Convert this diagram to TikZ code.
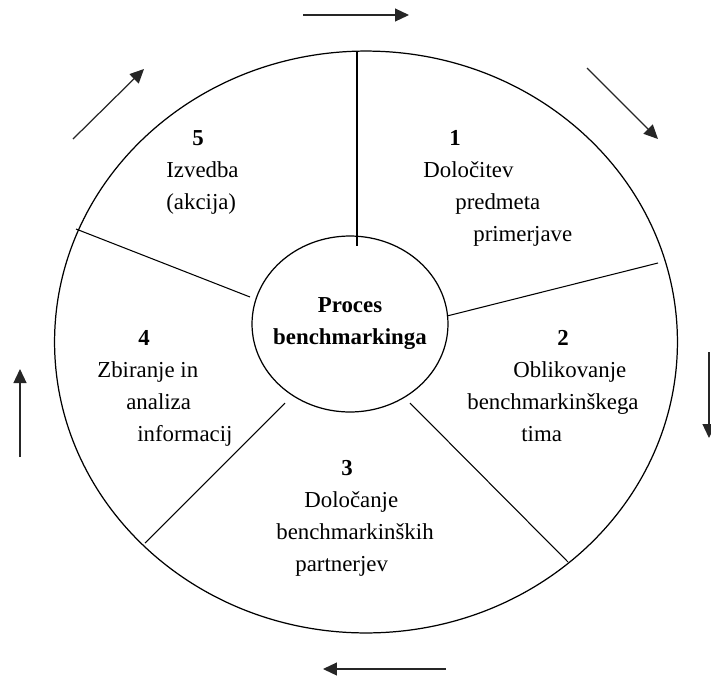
\documentclass[tikz,border=0pt]{standalone}
\usepackage{fontspec}
\setmainfont{Liberation Serif}
\usetikzlibrary{shapes.geometric,arrows.meta}
\tikzset{
  sector/.style={align=left, anchor=base west, inner sep=0pt, font=\fontsize{13}{18.2}\selectfont},
  ring/.style={draw, ellipse, line width=0.7pt, inner sep=0pt},
  spoke/.style={line width=0.6pt},
  flow/.style={line width=0.7pt, black!85, -{Triangle[length=0.28cm,width=0.26cm]}}
}
\begin{document}
\begin{tikzpicture}[x=0.02cm,y=-0.02cm]
\useasboundingbox (0,0) rectangle (711,677);
\node[ring, minimum width=12.46cm, minimum height=11.64cm] (wheel) at (366,342) {};
\node[ring, minimum width=3.92cm, minimum height=3.52cm] (hub) at (350,324) {};
\node[align=center, inner sep=0pt, font=\bfseries\fontsize{13}{18.2}\selectfont] (title) at (hub.center) {Proces\\benchmarkinga};

% spokes between hub and rim
\draw[spoke] (357,51) -- (357,246);
\draw[spoke] (447,316) -- (658,263);
\draw[spoke] (410,403) -- (568,562);
\draw[spoke] (285,403) -- (145,543);
\draw[spoke] (250,297) -- (76,229);

% base anchor sits on the last line
\node[sector] (s1) at (423,241) {\hspace*{0.52cm}\textbf{1}\\Določitev\\\hspace*{0.64cm}predmeta\\\hspace*{1cm}primerjave};
\node[sector] (s2) at (467,441) {\hspace*{1.8cm}\textbf{2}\\\hspace*{0.92cm}Oblikovanje\\benchmarkinškega\\\hspace*{1.08cm}tima};
\node[sector] (s3) at (276,571) {\hspace*{1.3cm}\textbf{3}\\\hspace*{0.56cm}Določanje\\benchmarkinških\\\hspace*{0.38cm}partnerjev};
\node[sector] (s4) at (97,441) {\hspace*{0.82cm}\textbf{4}\\Zbiranje in\\\hspace*{0.58cm}analiza\\\hspace*{0.8cm}informacij};
\node[sector] (s5) at (166,209) {\hspace*{0.52cm}\textbf{5}\\Izvedba\\(akcija)};

% direction of the cycle
\draw[flow] (303,15) -- (409,15);
\draw[flow] (587,68) -- (658,139);
\draw[flow] (709,352) -- (709,438);
\draw[flow] (446,669) -- (323,669);
\draw[flow] (20,457) -- (20,369);
\draw[flow] (73,139) -- (144,69);
\end{tikzpicture}
\end{document}
